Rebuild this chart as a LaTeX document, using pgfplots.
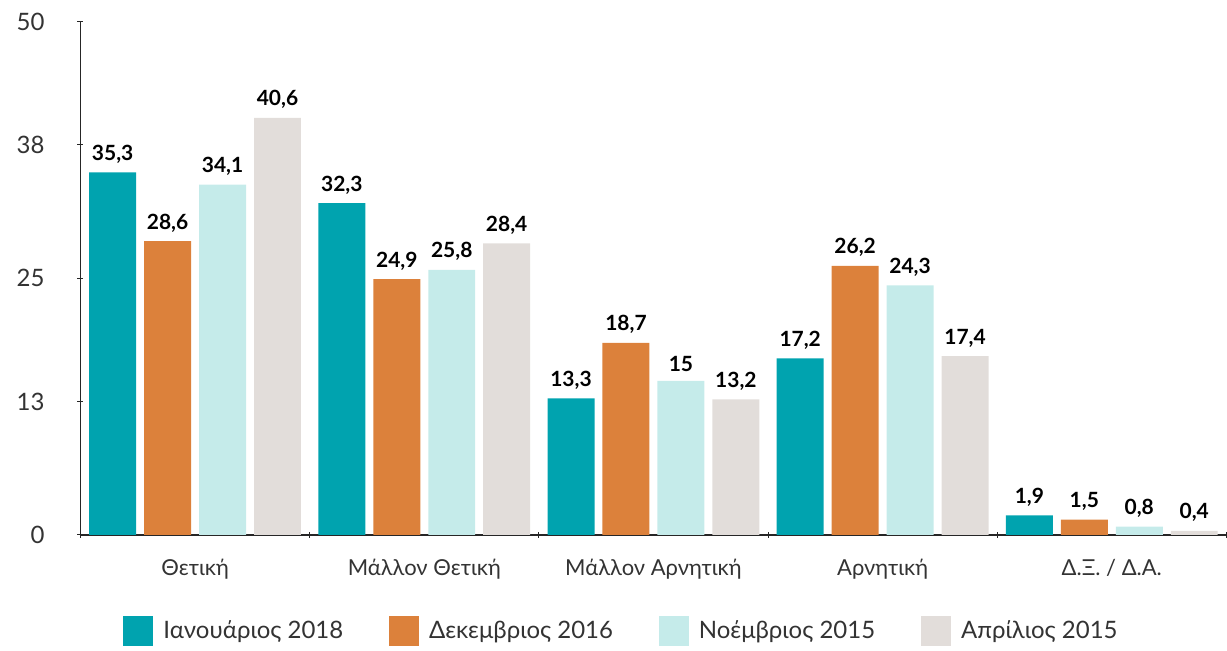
\documentclass[border=0pt]{standalone}
\usepackage{pgfplots}
\pgfplotsset{compat=1.18}
\usepackage{fontspec}
\setmainfont{Lato}
\definecolor{cTeal}{HTML}{00A3AF}
\definecolor{cOrange}{HTML}{DC813B}
\definecolor{cLight}{HTML}{C5EBEA}
\definecolor{cGrey}{HTML}{E2DDDA}
\definecolor{cText}{HTML}{333333}
\begin{document}
\begin{tikzpicture}
\begin{axis}[
  scale only axis,
  width=573.5pt, height=257pt,
  ybar=4pt, bar width=23.5pt,
  xmin=-0.5, xmax=4.5,
  ymin=0, ymax=50,
  ytick={0,13,25,38,50},
  xtick={0,1,2,3,4},
  xticklabels={Θετική, Μάλλον Θετική, Μάλλον Αρνητική, Αρνητική, Δ.Ξ. / Δ.Α.},
  minor xtick={-0.5,0.5,1.5,2.5,3.5,4.5},
  major x tick style={draw=none},
  minor tick length=3pt,
  major tick length=3pt,
  tick align=inside,
  axis x line=bottom, axis y line=left,
  axis line style={-, draw=black!85, line width=0.6pt},
  tick style={draw=black!85, line width=0.5pt},
  /pgf/number format/assume math mode=true,
  /pgf/number format/use comma,
  tick label style={font=\fontsize{11}{13}\selectfont, text=cText},
  yticklabel style={font=\fontsize{12}{14}\selectfont, xshift=-13pt},
  xticklabel style={yshift=-7pt},
  nodes near coords,
  nodes near coords style={font=\fontsize{10.5}{12}\selectfont\bfseries, text=black, yshift=1pt},
  every axis plot/.append style={draw=none},
  legend style={at={(axis description cs:0.473,-0.15)}, anchor=north, draw=none,
    legend columns=4, font=\fontsize{12}{14}\selectfont, text=cText,
    /tikz/every odd column/.append style={column sep=3pt},
    /tikz/every even column/.append style={column sep=21pt}},
  legend image code/.code={\fill[#1] (0pt,-7.5pt) rectangle (15pt,7.5pt);},
]
\addplot[fill=cTeal] coordinates {(0,35.3) (1,32.3) (2,13.3) (3,17.2) (4,1.9)};
\addplot[fill=cOrange] coordinates {(0,28.6) (1,24.9) (2,18.7) (3,26.2) (4,1.5)};
\addplot[fill=cLight] coordinates {(0,34.1) (1,25.8) (2,15) (3,24.3) (4,0.8)};
\addplot[fill=cGrey] coordinates {(0,40.6) (1,28.4) (2,13.2) (3,17.4) (4,0.4)};
\legend{Ιανουάριος 2018, Δεκεμβριος 2016, Νοέμβριος 2015, Απρίλιος 2015}
\end{axis}
\path ([xshift=-5pt,yshift=3pt]current bounding box.north west);
\end{tikzpicture}
\end{document}
